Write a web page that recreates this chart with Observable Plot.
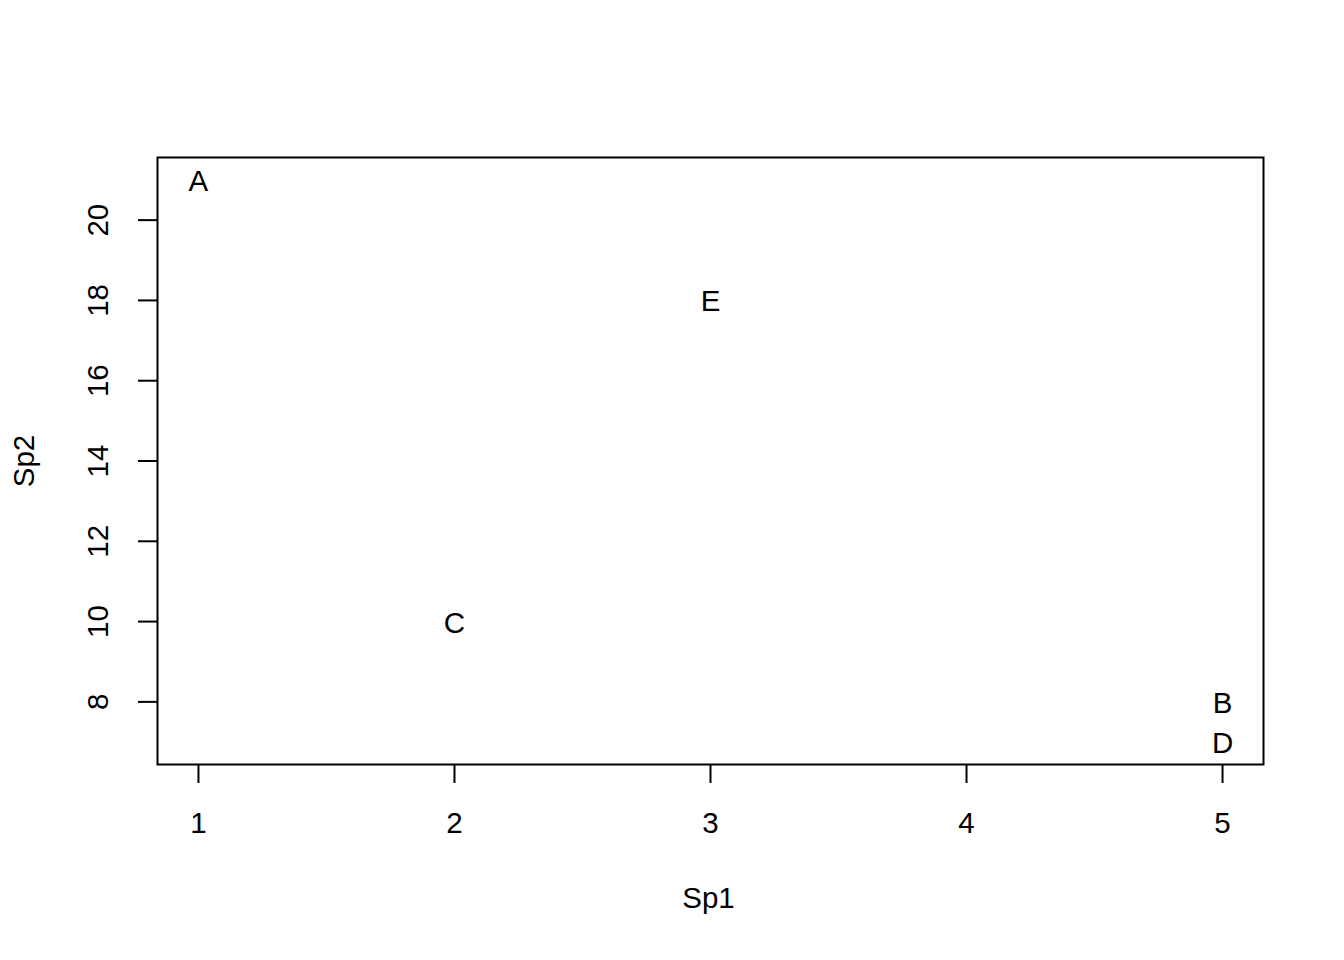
<!DOCTYPE html>
<html>
<head>
<meta charset="utf-8">
<script src="https://cdn.jsdelivr.net/npm/d3@7"></script>
<script src="https://cdn.jsdelivr.net/npm/@observablehq/plot@0.6"></script>
<style>
  html, body { margin: 0; padding: 0; background: #fff; }
  svg { display: block; }
</style>
</head>
<body>
<div id="chart"></div>
<script>
const labels = ["A", "B", "C", "D", "E"];
const sp1 = [1, 5, 2, 5, 3];
const sp2 = [21, 8, 10, 7, 18];
const xTicks = [1, 2, 3, 4, 5];
const yTicks = [8, 10, 12, 14, 16, 18, 20];

const data = labels.map((l, i) => ({label: l, x: sp1[i], y: sp2[i]}));

function pad(ext) {
  const r = ext[1] - ext[0];
  return [ext[0] - 0.04 * r, ext[1] + 0.04 * r];
}

const font = "Liberation Sans, Arial, sans-serif";
const fs = 29.5;

const chart = Plot.plot({
  width: 1344,
  height: 960,
  marginLeft: 157,
  marginRight: 81,
  marginTop: 157,
  marginBottom: 196,
  style: {fontFamily: font, fontSize: fs + "px", background: "#fff", color: "#000"},
  x: {domain: pad(d3.extent(sp1)), label: null},
  y: {domain: pad(d3.extent(sp2)), label: null},
  marks: [
    Plot.frame({stroke: "#000", strokeWidth: 2}),
    Plot.axisX({ticks: xTicks, tickSize: 19, strokeWidth: 2, tickFormat: () => "", label: null}),
    Plot.axisY({ticks: yTicks, tickSize: 19, strokeWidth: 2, tickFormat: () => "", label: null}),
    Plot.text(xTicks, {x: d => d, frameAnchor: "bottom", dy: 59, text: d => String(d),
      lineAnchor: "middle", textAnchor: "middle", fontSize: fs, fill: "#000"}),
    Plot.text(yTicks, {y: d => d, frameAnchor: "left", dx: -59, text: d => String(d),
      rotate: -90, lineAnchor: "middle", textAnchor: "middle", fontSize: fs, fill: "#000"}),
    Plot.text(["Sp1"], {frameAnchor: "bottom", dy: 134, dx: -2, text: d => d,
      lineAnchor: "middle", textAnchor: "middle", fontSize: fs, fill: "#000"}),
    Plot.text(["Sp2"], {frameAnchor: "left", dx: -133, text: d => d, rotate: -90,
      lineAnchor: "middle", textAnchor: "middle", fontSize: fs, fill: "#000"}),
    Plot.text(data, {x: "x", y: "y", text: "label", lineAnchor: "middle", dy: 1.5,
      textAnchor: "middle", fontSize: fs, fill: "#000"})
  ]
});
document.getElementById("chart").appendChild(chart);
</script>
</body>
</html>
